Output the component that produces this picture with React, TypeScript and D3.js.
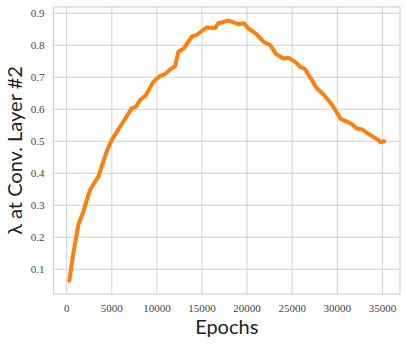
import React from 'react';
import * as d3 from 'd3';

// training epochs and lambda values
const epochs = [290, 735, 1290, 1840, 2580, 3510, 4430, 4990, 6270, 7200, 7680, 8130, 8790, 9600, 10340, 10900, 11640, 12010, 12380, 13010, 13860, 14410, 15520, 16440, 16810, 17920, 19030, 19660, 20140, 21070, 21800, 22540, 23210, 24020, 24570, 25310, 25870, 26420, 27160, 27720, 28450, 29380, 30410, 30860, 31600, 32080, 32820, 33630, 34550, 34810, 35210];
const lambdas = [0.064, 0.15, 0.239, 0.28, 0.348, 0.39, 0.468, 0.504, 0.561, 0.603, 0.608, 0.629, 0.645, 0.686, 0.704, 0.71, 0.728, 0.735, 0.78, 0.791, 0.827, 0.833, 0.856, 0.854, 0.869, 0.877, 0.866, 0.869, 0.853, 0.834, 0.811, 0.801, 0.773, 0.759, 0.761, 0.749, 0.733, 0.725, 0.692, 0.666, 0.647, 0.616, 0.569, 0.564, 0.554, 0.541, 0.536, 0.52, 0.504, 0.497, 0.5];
const xTicks = [0, 5000, 10000, 15000, 20000, 25000, 30000, 35000];
const yTicks = [0.1, 0.2, 0.3, 0.4, 0.5, 0.6, 0.7, 0.8, 0.9];

const W = 407, H = 344;
const left = 53.5, right = 400, top = 7, bottom = 294;

export default function App() {
  const x = d3.scaleLinear().domain([-1463, 36950]).range([left, right]);
  const y = d3.scaleLinear().domain([0.0228, 0.9197]).range([bottom, top]);
  const pts: [number, number][] = epochs.map((e, i) => [e, lambdas[i]]);
  const line = d3.line<[number, number]>()
    .x(d => x(d[0]))
    .y(d => y(d[1]))
    .curve(d3.curveLinear);

  const grid = '#d3d3d3';
  const tickFont = '"Liberation Serif", "DejaVu Serif", serif';
  const labelFont = 'Lato, "Open Sans", sans-serif';

  return (
    <svg width={W} height={H} style={{position: 'absolute', left: 0, top: 0}}>
      <rect x={0} y={0} width={W} height={H} fill="#fff" />
      {xTicks.map(t => (
        <line key={'gx' + t} x1={x(t)} x2={x(t)} y1={top} y2={bottom} stroke={grid} strokeWidth={1} />
      ))}
      {yTicks.map(t => (
        <line key={'gy' + t} x1={left} x2={right} y1={y(t)} y2={y(t)} stroke={grid} strokeWidth={1} />
      ))}
      <rect x={left} y={top} width={right - left} height={bottom - top} fill="none" stroke={grid} strokeWidth={1.2} />
      <path d={line(pts) || ''} fill="none" stroke="#ff7f0e" strokeWidth={4} strokeLinejoin="round" strokeLinecap="round" />
      {xTicks.map(t => (
        <text key={'tx' + t} x={x(t)} y={312} textAnchor="middle" fontFamily={tickFont} fontSize={11} fill="#444">{t}</text>
      ))}
      {yTicks.map(t => (
        <text key={'ty' + t} x={44.5} y={y(t) + 3.7} textAnchor="end" fontFamily={tickFont} fontSize={11} fill="#444">{t.toFixed(1)}</text>
      ))}
      <text x={(left + right) / 2} y={334} textAnchor="middle" fontFamily={labelFont} fontSize={20} fill="#222">Epochs</text>
      <text transform={`translate(22,${(top + bottom) / 2}) rotate(-90)`} textAnchor="middle" fontFamily={labelFont} fontSize={20} fill="#222">λ at Conv. Layer #2</text>
    </svg>
  );
}
